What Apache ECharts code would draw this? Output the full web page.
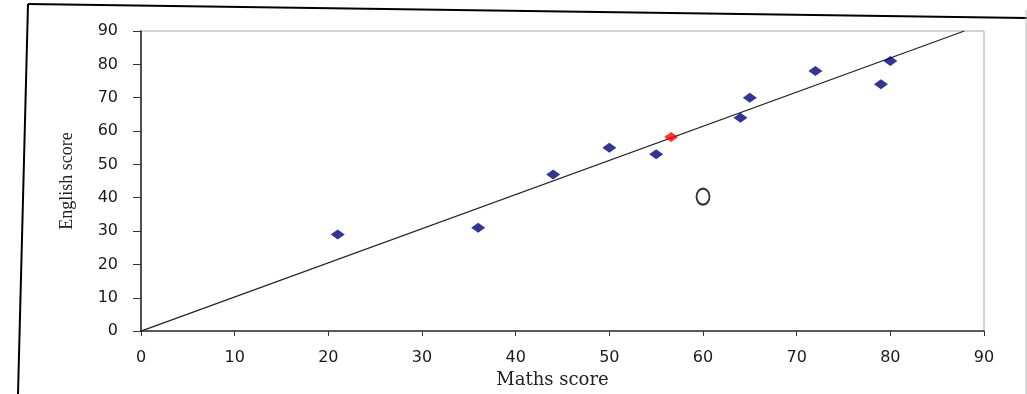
<!DOCTYPE html>
<html>
<head>
<meta charset="utf-8">
<script src="https://cdn.jsdelivr.net/npm/echarts@6/dist/echarts.min.js"></script>
<style>
  html, body { margin: 0; padding: 0; background: #fff; }
  #chart { width: 1027px; height: 394px; }
</style>
</head>
<body>
<div id="chart"></div>
<script>
  // pupils' scores (maths, english)
  var mathsScores = [21, 36, 44, 50, 55, 64, 65, 72, 79, 80]
  var englishScores = [29, 31, 47, 55, 53, 64, 70, 78, 74, 81]
  // mean point
  var meanPoint = [56.6, 58.2]
  // line of best fit through origin and mean
  var fitLine = [[0, 0], [87.9, 90]]
  // the circled point
  var circlePoint = [60, 40.3]
  var axisTicks = [0, 10, 20, 30, 40, 50, 60, 70, 80, 90]

  var points = mathsScores.map(function (m, i) { return [m, englishScores[i]] })

  var chart = echarts.init(document.getElementById('chart'))
  var option = {
    animation: false,
    grid: {
      left: 141, top: 31, right: 43, bottom: 58,
      show: true, borderColor: '#a8a8a8', borderWidth: 1
    },
    xAxis: {
      type: 'value', min: axisTicks[0], max: axisTicks[axisTicks.length - 1], interval: 10,
      name: 'Maths score', nameLocation: 'middle', nameGap: 36,
      nameTextStyle: { fontFamily: 'DejaVu Serif', fontSize: 18, color: '#222', padding: [0, 20, 0, 0] },
      axisLine: { show: true, onZero: false, lineStyle: { color: '#333', width: 1.5 } },
      axisTick: { show: true, length: 5, lineStyle: { color: '#333' } },
      axisLabel: { margin: 19, fontFamily: 'DejaVu Sans', fontSize: 16, color: '#1a1a1a' },
      splitLine: { show: false }
    },
    yAxis: {
      type: 'value', min: axisTicks[0], max: axisTicks[axisTicks.length - 1], interval: 10,
      name: 'English score', nameLocation: 'middle', nameGap: 65, nameRotate: 90,
      nameTextStyle: { fontFamily: 'Liberation Serif', fontSize: 18, color: '#222' },
      axisLine: { show: true, onZero: false, lineStyle: { color: '#222', width: 1.5 } },
      axisTick: { show: true, length: 8, lineStyle: { color: '#333' } },
      axisLabel: { margin: 23, fontFamily: 'DejaVu Sans', fontSize: 16, color: '#1a1a1a' },
      splitLine: { show: false }
    },
    graphic: [
      // skewed outer frame
      { type: 'line', shape: { x1: 28, y1: 4, x2: 1027, y2: 18 }, style: { stroke: '#000', lineWidth: 2 } },
      { type: 'line', shape: { x1: 28, y1: 4, x2: 18, y2: 394 }, style: { stroke: '#000', lineWidth: 2 } },
      { type: 'line', shape: { x1: 1026, y1: 10, x2: 1026, y2: 394 }, style: { stroke: '#bbb', lineWidth: 1 } }
    ],
    series: [
      {
        type: 'line', data: fitLine, symbol: 'none',
        lineStyle: { color: '#222', width: 1.2 }, z: 2
      },
      {
        type: 'scatter', data: points, symbol: 'diamond', symbolSize: [14, 10],
        itemStyle: { color: '#000080' }, z: 3
      },
      {
        type: 'scatter', data: [meanPoint], symbol: 'diamond', symbolSize: [14, 10],
        itemStyle: { color: '#ff0000' }, z: 4
      },
      {
        type: 'scatter', data: [circlePoint], symbol: 'circle', symbolSize: [13, 16],
        itemStyle: { color: '#fff', borderColor: '#000', borderWidth: 2 }, z: 4
      }
    ]
  }
  chart.setOption(option)
  window.addEventListener('resize', function () { chart.resize() })
</script>
</body>
</html>
